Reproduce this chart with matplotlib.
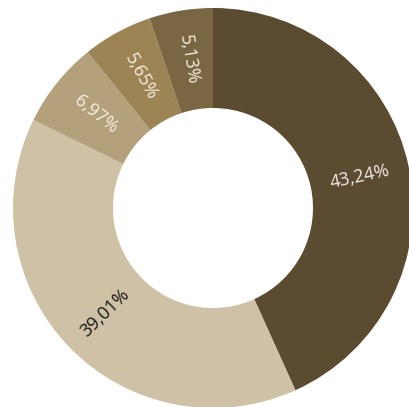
import matplotlib
matplotlib.use('Agg')
import matplotlib.pyplot as plt
import numpy as np

# data
shares = [43.24, 39.01, 6.97, 5.65, 5.13]
colors = ['#5b4b31', '#cec1a5', '#b4a17c', '#9c8455', '#7a6642']
text_colors = ['#f2ede4', '#1a1a1a', '#f5efe2', '#f5efe2', '#f5efe2']

plt.rcParams['font.family'] = ['Open Sans', 'DejaVu Sans']

fig = plt.figure(figsize=(4.10, 4.07), dpi=100)
# ring slightly cut off at the right and bottom edges
ax = fig.add_axes([13 / 410, -1 / 407, 400 / 410, 400 / 407])

wedges, _ = ax.pie(shares, colors=colors, startangle=90, counterclock=False,
                   radius=1.0, wedgeprops=dict(width=0.5, linewidth=0))

for w, val, tc in zip(wedges, shares, text_colors):
    ang = (w.theta1 + w.theta2) / 2
    x = 0.75 * np.cos(np.radians(ang))
    y = 0.75 * np.sin(np.radians(ang))
    # keep labels radial but readable
    rot = ang
    if ang > 90:
        rot = ang - 180
    elif ang < -90:
        rot = ang + 180
    label = f'{val:.2f}%'.replace('.', ',')
    ax.text(x, y, label, ha='center', va='center', rotation=rot,
            rotation_mode='anchor', color=tc, fontsize=13)

ax.set_xlim(-1, 1)
ax.set_ylim(-1, 1)
ax.set_aspect('auto')
ax.axis('off')

fig.savefig('out.png', dpi=100)
